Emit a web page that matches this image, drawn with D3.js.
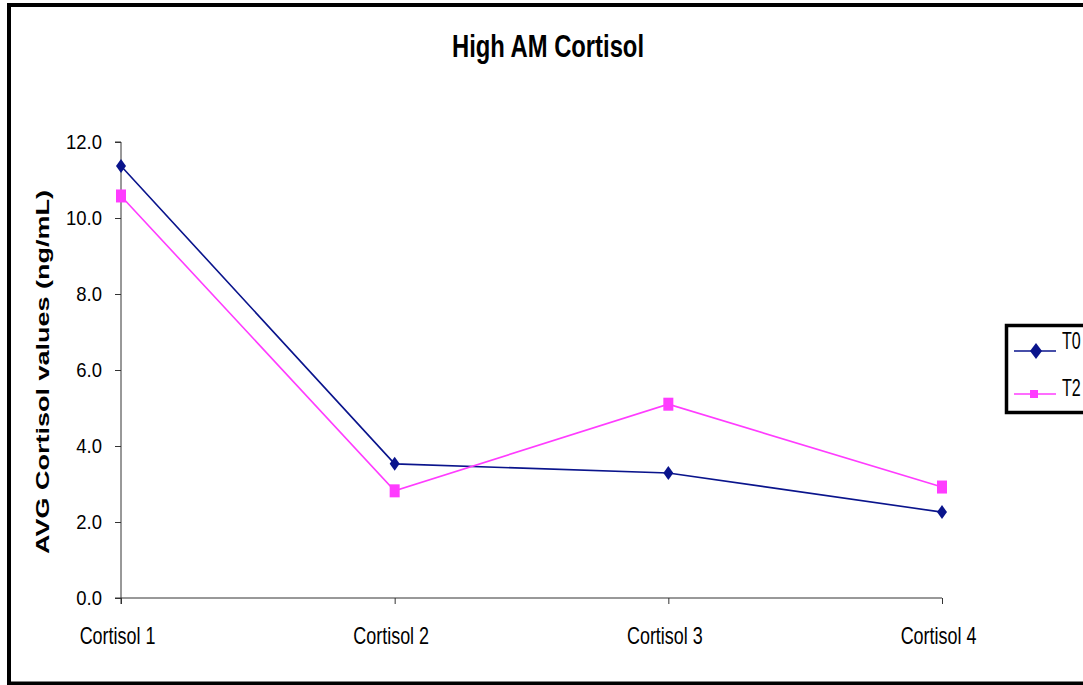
<!DOCTYPE html>
<html>
<head>
<meta charset="utf-8">
<script src="https://cdn.jsdelivr.net/npm/d3@7"></script>
<style>
  body { margin: 0; background: #fff; }
  svg { display: block; }
</style>
</head>
<body>
<svg id="chart"></svg>
<script>
// data
const categories = ["Cortisol 1", "Cortisol 2", "Cortisol 3", "Cortisol 4"];
const seriesNames = ["T0", "T2"];
const t0Values = [11.37, 3.53, 3.29, 2.26];
const t2Values = [10.58, 2.82, 5.10, 2.92];
const yTicks = [0, 2, 4, 6, 8, 10, 12];

const width = 1083, height = 685;
const font = "'Liberation Sans', Arial, sans-serif";

const svg = d3.select("#chart").attr("width", width).attr("height", height);

// outer frame
svg.append("rect")
    .attr("x", 9).attr("y", 5)
    .attr("width", 1090).attr("height", 678.5)
    .attr("fill", "none").attr("stroke", "#000").attr("stroke-width", 4);

const x = d3.scalePoint().domain(categories).range([121, 942]).padding(0);
const y = d3.scaleLinear().domain([0, 12]).range([598, 142]);

// title (narrow bold look)
svg.append("text")
    .attr("x", 548).attr("y", 57)
    .attr("text-anchor", "middle")
    .attr("font-family", font)
    .attr("font-weight", "bold")
    .attr("font-size", "31px")
    .attr("textLength", 192)
    .attr("lengthAdjust", "spacingAndGlyphs")
    .text("High AM Cortisol");

// y axis
const yAxis = svg.append("g")
    .attr("transform", "translate(121,0)")
    .call(d3.axisLeft(y).tickValues(yTicks).tickSize(6).tickFormat(d3.format(".1f")));
yAxis.selectAll("text")
    .attr("x", null)
    .attr("transform", "translate(-19,0) scale(0.88,1)")
    .attr("font-family", font).attr("font-size", "21px").attr("fill", "#000");
yAxis.select(".domain").attr("stroke", "#333").attr("d", `M-6,${y(12)}H0V${y(0) + 6}`);
yAxis.selectAll(".tick line").attr("stroke", "#333");

// x axis
const xAxis = svg.append("g")
    .attr("transform", `translate(0,${y(0)})`)
    .call(d3.axisBottom(x).tickSize(6).tickPadding(24));
xAxis.selectAll("text")
    .attr("transform", "translate(-4,0) scale(0.78,1)")
    .attr("font-family", font).attr("font-size", "23px").attr("fill", "#000");
xAxis.select(".domain").attr("stroke", "#333").attr("d", `M115,0H942`);
xAxis.selectAll(".tick line").attr("stroke", "#333");

// y axis title (wide bold look)
svg.append("text")
    .attr("transform", "translate(49,372) rotate(-90)")
    .attr("text-anchor", "middle")
    .attr("font-family", font)
    .attr("font-weight", "bold")
    .attr("font-size", "19px")
    .attr("textLength", 364)
    .attr("lengthAdjust", "spacingAndGlyphs")
    .text("AVG Cortisol values (ng/mL)");

const line = d3.line().x((d, i) => x(categories[i])).y(d => y(d));

const t0Color = "#0a148c";
const t2Color = "#ff3cff";

svg.append("path").datum(t0Values)
    .attr("d", line).attr("fill", "none")
    .attr("stroke", t0Color).attr("stroke-width", 1.6);
svg.append("path").datum(t2Values)
    .attr("d", line).attr("fill", "none")
    .attr("stroke", t2Color).attr("stroke-width", 1.6);

const diamond = "M0,-7L5,0L0,7L-5,0Z";

svg.selectAll(".m0").data(t0Values).join("path")
    .attr("class", "m0")
    .attr("d", diamond)
    .attr("transform", (d, i) => `translate(${x(categories[i])},${y(d)})`)
    .attr("fill", t0Color);

svg.selectAll(".m2").data(t2Values).join("rect")
    .attr("class", "m2")
    .attr("x", (d, i) => x(categories[i]) - 5)
    .attr("y", d => y(d) - 6.5)
    .attr("width", 10).attr("height", 13)
    .attr("fill", t2Color);

// legend
const legend = svg.append("g");
legend.append("rect")
    .attr("x", 1006.5).attr("y", 325.5)
    .attr("width", 100).attr("height", 87)
    .attr("fill", "#fff").attr("stroke", "#000").attr("stroke-width", 3.5);

const legendData = [
    { name: seriesNames[0], color: t0Color, y: 351, ty: 349, shape: "diamond" },
    { name: seriesNames[1], color: t2Color, y: 394, ty: 396, shape: "square" }
];
const items = legend.selectAll(".li").data(legendData).join("g")
    .attr("class", "li");
items.append("line")
    .attr("x1", 1014).attr("x2", 1056)
    .attr("y1", d => d.y).attr("y2", d => d.y)
    .attr("stroke", d => d.color).attr("stroke-width", 1.6);
items.filter(d => d.shape === "diamond").append("path")
    .attr("d", "M0,-8L6,0L0,8L-6,0Z")
    .attr("transform", d => `translate(1036,${d.y})`)
    .attr("fill", d => d.color);
items.filter(d => d.shape === "square").append("rect")
    .attr("x", 1030).attr("y", d => d.y - 4).attr("width", 8).attr("height", 8)
    .attr("fill", d => d.color);
items.append("text")
    .attr("transform", d => `translate(1062,${d.ty}) scale(0.7,1)`)
    .attr("font-family", font).attr("font-size", "23px")
    .text(d => d.name);
</script>
</body>
</html>
